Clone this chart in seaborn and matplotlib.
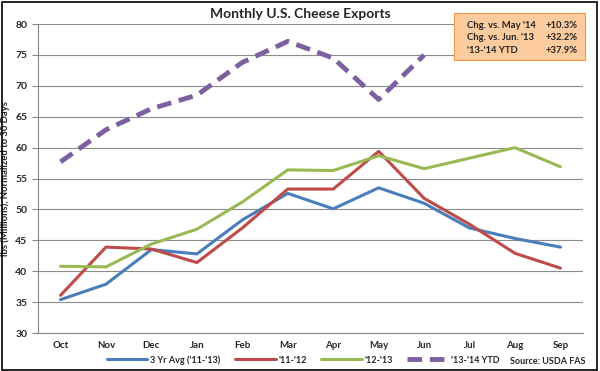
import matplotlib
matplotlib.use("Agg")
import matplotlib.pyplot as plt
import seaborn as sns
import pandas as pd
from matplotlib.patches import FancyBboxPatch

months = ["Oct", "Nov", "Dec", "Jan", "Feb", "Mar", "Apr", "May", "Jun", "Jul", "Aug", "Sep"]
avg3 = [35.4, 37.9, 43.5, 42.8, 48.3, 52.6, 50.1, 53.5, 51.0, 47.0, 45.3, 43.9]
y1112 = [36.1, 43.9, 43.6, 41.4, 47.0, 53.3, 53.3, 59.4, 51.8, 47.6, 42.9, 40.5]
y1213 = [40.8, 40.7, 44.4, 46.8, 51.2, 56.4, 56.3, 58.7, 56.6, 58.3, 60.0, 56.9]
ytd1314 = [57.7, 62.9, 66.3, 68.5, 73.8, 77.2, 74.5, 67.8, 75.0]
series_names = ["3 Yr Avg ('11-'13)", "'11-'12", "'12-'13", "'13-'14 YTD"]
box_labels = ["Chg. vs. May '14", "Chg. vs. Jun. '13", "'13-'14 YTD"]
box_values = ["+10.3%", "+32.2%", "+37.9%"]

sns.set_theme(style="white")
plt.rcParams['font.family'] = ['Lato', 'DejaVu Sans']

rows = []
for name, vals in zip(series_names, [avg3, y1112, y1213, ytd1314]):
    for i, v in enumerate(vals):
        rows.append({"month": months[i], "x": i, "value": v, "series": name})
df = pd.DataFrame(rows)

colors = {series_names[0]: "#4A7EBB", series_names[1]: "#BE4B48",
          series_names[2]: "#98B954", series_names[3]: "#7D60A0"}

fig = plt.figure(figsize=(6, 3.71), dpi=100)
ax = fig.add_axes([0.063, 0.1024, 0.909, 0.8327])

for name in series_names[:3]:
    sub = df[df.series == name]
    sns.lineplot(data=sub, x="x", y="value", ax=ax, color=colors[name], lw=2.2,
                 label=name, legend=False)
sub = df[df.series == series_names[3]]
sns.lineplot(data=sub, x="x", y="value", ax=ax, color=colors[series_names[3]], lw=3.5,
             dashes=False, label=series_names[3], legend=False, linestyle=(0, (3, 1.6)),
             dash_capstyle="butt")

ax.set_xlim(-0.5, 11.5)
ax.set_ylim(30, 80)
ax.set_yticks(range(30, 81, 5))
ax.set_xticks(range(12))
ax.set_xticklabels(months)
ax.set_xticks([i + 0.5 for i in range(-1, 12)], minor=True)
ax.tick_params(axis="x", which="major", length=0, labelsize=7, pad=6)
ax.tick_params(axis="x", which="minor", length=4, color="#868686", width=0.8, direction="out")
ax.tick_params(axis="y", length=4, color="#868686", width=0.8, labelsize=7.5, direction="out", left=True)
for lab in ax.get_xticklabels() + ax.get_yticklabels():
    lab.set_fontweight("bold")
ax.grid(axis="y", color="#8C8C8C", lw=0.8)
ax.set_axisbelow(True)
for s in ["top", "right"]:
    ax.spines[s].set_visible(False)
for s in ["left", "bottom"]:
    ax.spines[s].set_color("#868686")
    ax.spines[s].set_linewidth(0.8)
ax.set_xlabel("")
ax.set_ylabel("lbs (Millions), Normalized to 30 Days", fontsize=6.8, fontweight="bold", labelpad=4)

fig.text(0.5, 0.962, "Monthly U.S. Cheese Exports", ha="center", va="center",
         fontsize=10, fontweight="bold")

handles, labels = ax.get_legend_handles_labels()
leg = fig.legend(handles, labels, loc="center", bbox_to_anchor=(0.505, 0.03), ncol=4,
                 frameon=False, handlelength=4.5, columnspacing=1.6,
                 handletextpad=0.3, borderpad=0.1, prop={"weight": "bold", "size": 6.5})
fig.text(0.975, 0.026, "Source: USDA FAS", ha="right", va="center", fontsize=6.5, fontweight="bold")

# annotation box
box = FancyBboxPatch((0.757, 0.838), 0.218, 0.127, boxstyle="square,pad=0",
                     transform=fig.transFigure, facecolor="#FCCB9E", edgecolor="#F79646",
                     lw=0.8, zorder=5)
fig.patches.append(box)
for i, (l, v) in enumerate(zip(box_labels, box_values)):
    yy = 0.932 - i * 0.034
    fig.text(0.778, yy, l, fontsize=6.8, fontweight="bold", va="center", zorder=6, color="#222222")
    fig.text(0.962, yy, v, fontsize=6.8, fontweight="bold", va="center", ha="right", zorder=6, color="#222222")

# outer border
border = FancyBboxPatch((0.003, 0.004), 0.992, 0.99, boxstyle="square,pad=0",
                        transform=fig.transFigure, facecolor="none", edgecolor="black", lw=1.2)
fig.patches.append(border)

fig.savefig("out.png", dpi=100)
